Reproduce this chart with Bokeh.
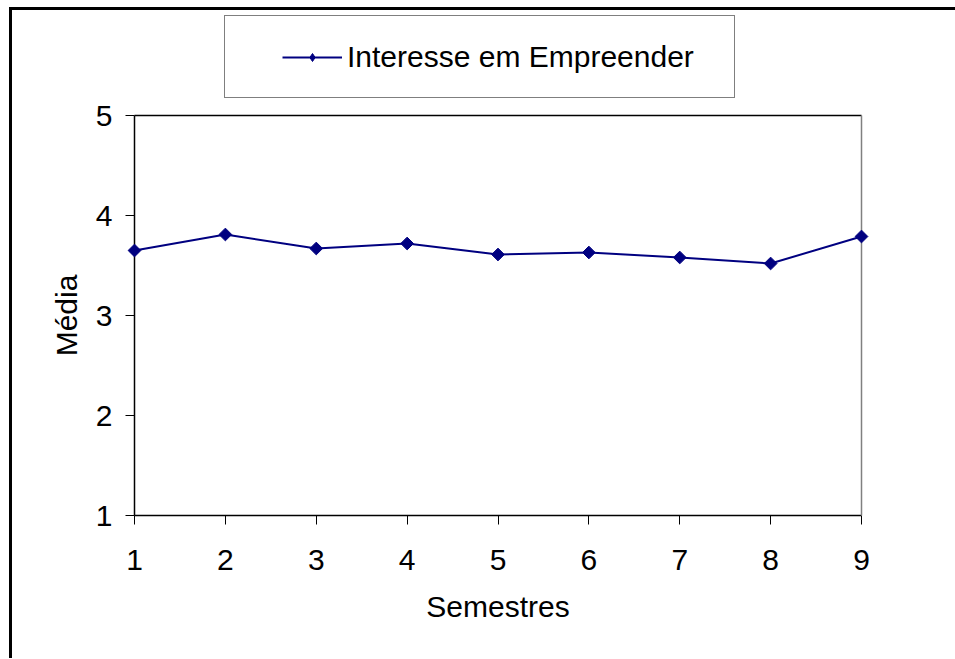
import math
from bokeh.plotting import figure
from bokeh.layouts import column
from bokeh.models import LinearAxis, Legend, LegendItem, FixedTicker, Range1d
from bokeh.embed import file_html
from bokeh.resources import INLINE

# ---- data ----
semestres = [1, 2, 3, 4, 5, 6, 7, 8, 9]
media = [3.65, 3.81, 3.67, 3.72, 3.61, 3.63, 3.58, 3.52, 3.79]
y_ticks = [1, 2, 3, 4, 5]
series_name = "Interesse em Empreender"
x_title = "Semestres"
y_title = "Média"

FONT = "Liberation Sans"
FS = "30px"
NAVY = "#000080"
W = 943

# ---- main chart ----
p = figure(width=W, height=558, output_backend="svg", toolbar_location=None,
           x_range=Range1d(1, 9), y_range=Range1d(1, 5),
           min_border_left=122, min_border_right=94,
           min_border_top=15, min_border_bottom=143,
           background_fill_color="white", border_fill_color="white")
p.grid.visible = False
p.outline_line_color = None

line_style = dict(line_color=NAVY, line_width=2)

p.line(semestres, media, level="overlay", **line_style)
p.scatter(semestres, media, level="overlay", marker="square", angle=math.pi / 4, size=9,
          fill_color=NAVY, line_color=NAVY)

xa = p.xaxis[0]
ya = p.yaxis[0]
xa.ticker = FixedTicker(ticks=semestres)
ya.ticker = FixedTicker(ticks=y_ticks)
xa.axis_label = x_title
ya.axis_label = y_title
for ax in (xa, ya):
    ax.axis_line_color = "black"
    ax.axis_line_width = 1.5
    ax.major_tick_line_color = "black"
    ax.major_tick_line_width = 1
    ax.major_tick_out = 9
    ax.major_tick_in = 0
    ax.minor_tick_line_color = None
    ax.major_label_text_font = FONT
    ax.major_label_text_font_size = FS
    ax.major_label_text_color = "black"
    ax.axis_label_text_font = FONT
    ax.axis_label_text_font_size = FS
    ax.axis_label_text_font_style = "normal"
    ax.axis_label_text_color = "black"
xa.major_label_standoff = 25
ya.major_label_standoff = 13
xa.axis_label_standoff = 17
ya.axis_label_standoff = 10


def border_axis(color):
    return LinearAxis(ticker=FixedTicker(ticks=[]), axis_line_color=color, axis_line_width=1.5,
                      major_tick_line_color=None, minor_tick_line_color=None,
                      major_tick_out=0, major_tick_in=0, minor_tick_out=0, minor_tick_in=0,
                      major_label_standoff=0, major_label_text_font_size="0px")


p.add_layout(border_axis("black"), "above")
p.add_layout(border_axis("#808080"), "right")

# ---- legend strip above the chart (its sample glyphs sit outside its view) ----
lg = figure(width=W, height=90, output_backend="svg", toolbar_location=None,
            x_range=Range1d(100, 101), y_range=Range1d(100, 101),
            x_axis_type=None, y_axis_type=None,
            min_border_left=122, min_border_right=94, min_border_top=0, min_border_bottom=0,
            background_fill_color="white", border_fill_color="white")
lg.grid.visible = False
lg.outline_line_color = None
lr_line = lg.line(semestres, media, **line_style)
lr_mark = lg.scatter(semestres, media, marker="diamond", size=15,
                     fill_color=NAVY, line_color=NAVY)

legend = Legend(items=[LegendItem(label=series_name, renderers=[lr_line, lr_mark])],
                location=(90, 2), margin=0, glyph_width=60, label_standoff=5,
                label_text_font=FONT, label_text_font_size=FS, label_text_color="black",
                border_line_color="black", border_line_width=1,
                background_fill_color="white", background_fill_alpha=1.0)
try:
    legend.padding = (57, 40, 24, 23)  # left, right, top, bottom
except Exception:
    legend.padding = 23
lg.add_layout(legend, "center")

page = column(lg, p, spacing=0,
              styles={"border-left": "3px solid black", "border-top": "3px solid black",
                      "margin-left": "9px", "margin-top": "7px"})

open("out.html", "w").write(file_html(page, INLINE))
